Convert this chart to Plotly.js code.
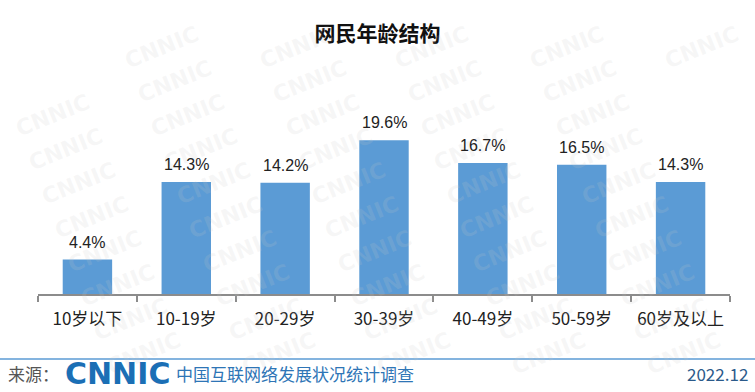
<!DOCTYPE html>
<html>
<head>
<meta charset="utf-8">
<script src="https://cdn.plot.ly/plotly-3.0.1.min.js"></script>
<style>html,body{margin:0;padding:0;background:#fff;}#chart{width:755px;height:392px;}</style>
</head>
<body>
<div id="chart"></div>
<script>
// ---- data ----
const categories = ["10岁以下", "10-19岁", "20-29岁", "30-39岁", "40-49岁", "50-59岁", "60岁及以上"];
const shares = [4.4, 14.3, 14.2, 19.6, 16.7, 16.5, 14.3];
const valueLabels = ["4.4%", "14.3%", "14.2%", "19.6%", "16.7%", "16.5%", "14.3%"];
const chartTitle = "网民年龄结构";
const sourceLabel = "来源：";
const logoText = "CNNIC";
const surveyName = "中国互联网络发展状况统计调查";
const dateLabel = "2022.12";

// ---- styles ----
const barColor = "#5b9bd5";
const cjk = "'Noto Sans CJK SC', 'Noto Sans', sans-serif";
const latin = "'Liberation Sans', Arial, sans-serif";

const annotations = [];

// faint watermark tiles (decoration), only those fully inside the page
for (let r = -2; r < 13; r++) {
  for (let c = -6; c < 7; c++) {
    const px = 553 + c * 135 + r * 13;
    const py = 13 + r * 34;
    if (px < 50 || px > 705 || py < 24 || py > 368) continue;
    annotations.push({
      xref: "paper", yref: "paper",
      x: (px - 38) / 692,
      y: (294 - py) / 196,
      text: "CNNIC", showarrow: false, textangle: -22,
      font: {family: "'DejaVu Sans', sans-serif", size: 22, color: "rgba(200,200,200,0.16)", weight: "bold"},
      xanchor: "center", yanchor: "middle"
    });
  }
}

// value labels above bars
categories.forEach((cat, i) => {
  annotations.push({
    x: cat, y: shares[i], xref: "x", yref: "y",
    text: valueLabels[i], showarrow: false,
    yanchor: "bottom", yshift: 7,
    font: {family: latin, size: 16, color: "#222"}
  });
});

// footer
const footY = (294 - 373) / 196;
annotations.push(
  {xref: "paper", yref: "paper", x: (6-38)/692, y: footY, xanchor: "left", yanchor: "middle",
   text: sourceLabel, showarrow: false, font: {family: cjk, size: 17, color: "#555"}},
  {xref: "paper", yref: "paper", x: (63-38)/692, y: footY, xanchor: "left", yanchor: "middle",
   text: logoText, showarrow: false, font: {family: "'DejaVu Sans', sans-serif", size: 30, color: "#1b6fb5", weight: "bold"}},
  {xref: "paper", yref: "paper", x: (174-38)/692, y: footY, xanchor: "left", yanchor: "middle",
   text: surveyName, showarrow: false, font: {family: cjk, size: 17, color: "#2e75b6"}},
  {xref: "paper", yref: "paper", x: (750-38)/692, y: footY, xanchor: "right", yanchor: "middle",
   text: dateLabel, showarrow: false, font: {family: cjk, size: 17, color: "#2b5a8a"}}
);

const trace = {
  type: "bar",
  x: categories,
  y: shares,
  marker: {color: barColor},
  hoverinfo: "none"
};

const layout = {
  width: 755, height: 392,
  margin: {l: 38, r: 25, t: 98, b: 98},
  paper_bgcolor: "#fff", plot_bgcolor: "rgba(0,0,0,0)",
  title: {text: "<b>" + chartTitle + "</b>", x: 0.5, xanchor: "center", y: 0.915, yanchor: "middle",
          font: {family: cjk, size: 21, color: "#111"}},
  bargap: 0.5,
  showlegend: false,
  xaxis: {
    type: "category",
    showline: true, linecolor: "#8c8c8c", linewidth: 2,
    ticks: "outside", tickson: "boundaries", ticklen: 6, tickcolor: "#8c8c8c", tickwidth: 2,
    tickfont: {family: cjk, size: 17, color: "#222"},
    ticklabelstandoff: 9,
    showgrid: false, zeroline: false, fixedrange: true
  },
  yaxis: {
    range: [0, 25], visible: false, showgrid: false, zeroline: false, fixedrange: true
  },
  shapes: [
    {type: "line", xref: "paper", yref: "paper", x0: -38/692, x1: 717/692,
     y0: (294-359)/196, y1: (294-359)/196, line: {color: "#5b9bd5", width: 1.5}}
  ],
  annotations: annotations
};

Plotly.newPlot("chart", [trace], layout, {staticPlot: true, displayModeBar: false});
</script>
</body>
</html>
